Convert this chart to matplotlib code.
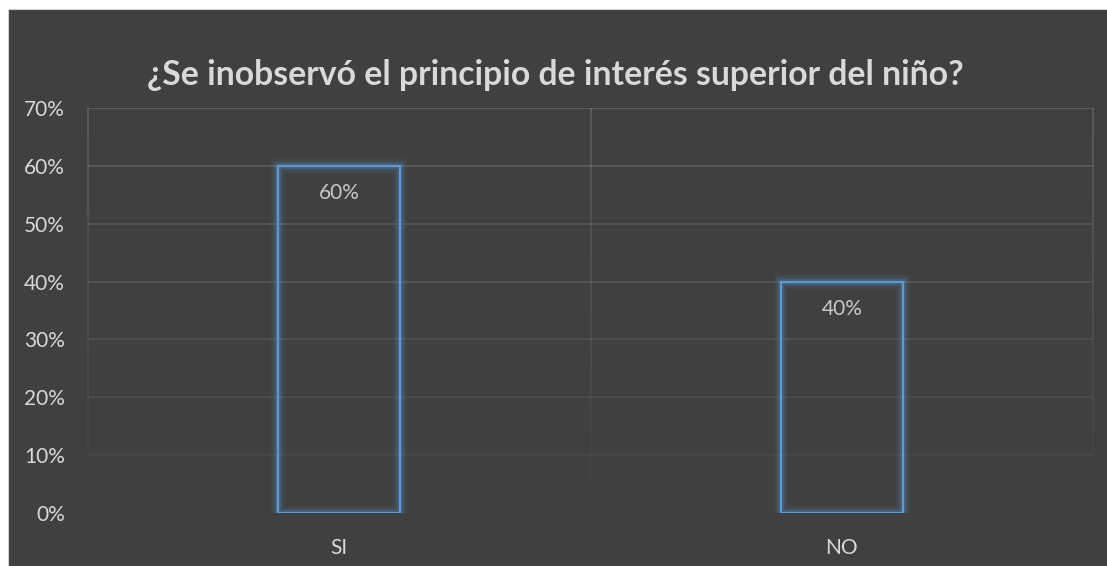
import matplotlib.pyplot as plt
from matplotlib.patches import Rectangle
from matplotlib.ticker import PercentFormatter

# datos
categorias = ['SI', 'NO']
valores = [0.60, 0.40]
etiquetas = ['60%', '40%']
titulo = '¿Se inobservó el principio de interés superior del niño?'

FONDO = '#404040'
AZUL = '#5b9bd5'
TEXTO = '#d9d9d9'

plt.rcParams['font.family'] = ['Lato', 'DejaVu Sans']

fig = plt.figure(figsize=(11.07, 5.66), dpi=100, facecolor='white')
# area del grafico (borde blanco arriba e izquierda)
fig.add_artist(Rectangle((8 / 1107, 0), 1, (566 - 9) / 566, transform=fig.transFigure,
                         facecolor=FONDO, edgecolor='#d0d0d0', lw=0.8, zorder=-10))

ax = fig.add_axes([88 / 1107, 53 / 566, 1005 / 1107, 405 / 566])
ax.set_zorder(1)
ax.set_facecolor('none')
ax.set_xlim(0, 2)
ax.set_ylim(0, 0.70)

# lineas de cuadricula con degradado hacia abajo
ticks = [i / 10 for i in range(8)]
for t in ticks[1:]:
    a = 0.03 + 0.13 * (t / 0.7)
    ax.axhline(t, color='white', alpha=a, lw=1.2, zorder=1)
# lineas verticales (borde izquierdo, separador y borde derecho) con degradado
n = 30
for xv in [0, 1, 2]:
    for i in range(n):
        y0 = 0.7 * i / n
        y1 = 0.7 * (i + 1) / n
        a = 0.16 * (i + 0.5) / n
        ax.plot([xv, xv], [y0, y1], color='white', alpha=a, lw=1.2,
                solid_capstyle='butt', zorder=1, clip_on=False)

for s in ax.spines.values():
    s.set_visible(False)

# barras (sin relleno, borde azul con brillo)
x = [0.5, 1.5]
w = 0.243
for lw, a in [(10, 0.07), (7, 0.11), (4.5, 0.18)]:
    ax.bar(x, valores, width=w, facecolor='none', edgecolor=AZUL, lw=lw, alpha=a, zorder=2)
ax.bar(x, valores, width=w, facecolor='none', edgecolor=AZUL, lw=1.6, zorder=3)

for xi, v, lab in zip(x, valores, etiquetas):
    ax.text(xi, v - 0.047, lab, ha='center', va='center', color='#c8c8c8', fontsize=15, zorder=4)

ax.set_yticks(ticks)
ax.yaxis.set_major_formatter(PercentFormatter(1.0, decimals=0))
ax.set_xticks(x)
ax.set_xticklabels(categorias)
ax.tick_params(axis='both', length=0, colors=TEXTO, labelsize=15)
ax.tick_params(axis='y', pad=16.5)
ax.tick_params(axis='x', pad=18)

fig.text(555 / 1107, 1 - 75 / 566, titulo, ha='center', va='center',
         color=TEXTO, fontsize=24.3, fontweight='bold')

fig.savefig('out.png', dpi=100, facecolor='white')
